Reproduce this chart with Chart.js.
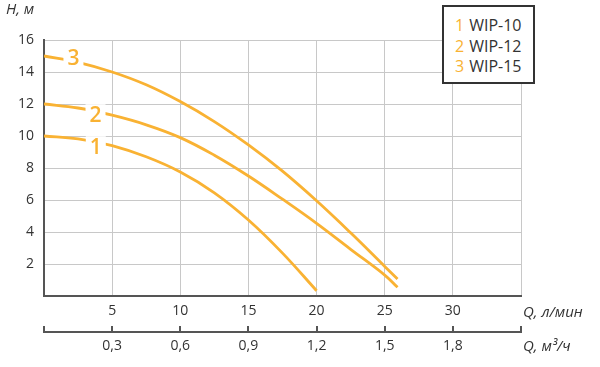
<!DOCTYPE html>
<html>
<head>
<meta charset="utf-8">
<script src="https://cdn.jsdelivr.net/npm/chart.js@4"></script>
<style>
  body { margin: 0; background: #fff; }
  #wrap { position: relative; width: 600px; height: 367px; }
  #legend {
    position: absolute; left: 442px; top: 5px; width: 93px; height: 79px;
    box-sizing: border-box; border: 2px solid #333; background: #fff;
    font: 16px "Open Sans", sans-serif; color: #333;
    padding: 8px 0 0 11px; line-height: 20.5px;
  }
  #legend span { color: #f9b233; margin-right: 5px; }
</style>
</head>
<body>
<div id="wrap">
  <canvas id="chart" width="600" height="367"></canvas>
  <div id="legend"></div>
</div>
<script>
// === Data ===
const SERIES_NAMES = ["WIP-10", "WIP-12", "WIP-15"];

// Q (л/мин), H (м)
const WIP10 = [[0, 10], [2.5, 9.82], [5, 9.4], [7.5, 8.7], [10, 7.75], [12.5, 6.45], [15, 4.75], [17.5, 2.68], [20, 0.33]];
const WIP12 = [[0, 12], [2.5, 11.75], [5, 11.3], [7.5, 10.7], [10, 9.9], [12.5, 8.8], [15, 7.5], [17.5, 6.05], [20, 4.54], [22.5, 2.92], [25, 1.31], [25.94, 0.54]];
const WIP15 = [[0, 15], [2.5, 14.6], [5, 14.0], [7.5, 13.2], [10, 12.15], [12.5, 10.9], [15, 9.44], [17.5, 7.8], [20, 5.95], [22.5, 3.95], [25, 1.85], [25.94, 1.06]];

// curve number tags, data coords
const CURVE_TAGS = [[3.8, 9.3], [3.78, 11.3], [2.16, 14.9]];

const Y_TICKS = [2, 4, 6, 8, 10, 12, 14, 16];
const Q_LPM_LABELS = ["", "5", "10", "15", "20", "25", "30", ""];
const Q_M3H_LABELS = ["", "0,3", "0,6", "0,9", "1,2", "1,5", "1,8", ""];

const ORANGE = "#f9b233";
const TEXT = "#333";
const FONT = '"Open Sans", sans-serif';

// =========================
// LEGEND
// =========================
document.getElementById("legend").innerHTML = SERIES_NAMES
  .map((n, i) => `<div><span>${i + 1}</span>${n}</div>`).join("");

// =========================
// EXTRA DRAWING (tags, ruler, unit titles)
// =========================
const extras = {
  id: "extras",
  afterDatasetsDraw(chart) {
    const { ctx, scales: { x, y } } = chart;
    ctx.save();
    ctx.font = `600 21px ${FONT}`;
    ctx.textAlign = "center";
    ctx.textBaseline = "middle";
    CURVE_TAGS.forEach((t, i) => {
      const px = x.getPixelForValue(t[0]);
      const py = y.getPixelForValue(t[1]);
      ctx.fillStyle = "#fff";
      ctx.fillRect(px - 10, py - 11, 20, 22);
      ctx.fillStyle = ORANGE;
      ctx.fillText(String(i + 1), px, py + 1);
    });
    ctx.restore();
  },
  afterDraw(chart) {
    const { ctx, scales: { x, x2 } } = chart;
    ctx.save();
    // ruler baseline under the tick marks
    ctx.strokeStyle = "#555";
    ctx.lineWidth = 2;
    ctx.beginPath();
    const ly = x2.top + 6;
    ctx.moveTo(x2.getPixelForValue(0) - 1, ly);
    ctx.lineTo(x2.getPixelForValue(35) + 1, ly);
    ctx.stroke();

    ctx.fillStyle = TEXT;
    ctx.font = `italic 15px ${FONT}`;
    ctx.textBaseline = "middle";
    ctx.textAlign = "left";
    ctx.fillText("Q, л/мин", x.right + 2, 313);
    ctx.fillText("Q, м³/ч", x.right + 2, 347);
    ctx.fillText("H, м", 6, 10);
    ctx.restore();
  }
};

// =========================
// CHART
// =========================
const mk = (pts) => pts.map((p) => ({ x: p[0], y: p[1] }));

new Chart(document.getElementById("chart"), {
  type: "scatter",
  data: {
    datasets: [WIP10, WIP12, WIP15].map((d, i) => ({
      label: SERIES_NAMES[i],
      data: mk(d),
      showLine: true,
      borderColor: ORANGE,
      borderWidth: 2.8,
      pointRadius: 0,
      tension: 0.4
    }))
  },
  options: {
    responsive: false,
    animation: false,
    layout: { padding: { top: 40, right: 79, left: 0, bottom: 0 } },
    plugins: { legend: { display: false }, tooltip: { enabled: false } },
    scales: {
      x: {
        type: "linear", position: "bottom", weight: 0,
        min: 0, max: 35,
        afterFit: (s) => { s.height = 30; },
        afterBuildTicks: (s) => { s.ticks = Q_LPM_LABELS.map((_, i) => ({ value: i * 5 })); },
        ticks: {
          padding: 7, color: TEXT, font: { family: FONT, size: 14 }, maxRotation: 0,
          callback: (v) => Q_LPM_LABELS[Math.round(v / 5)]
        },
        grid: { color: "#c8c8c8", lineWidth: 1, drawTicks: false },
        border: { color: "#555", width: 2 }
      },
      x2: {
        type: "linear", position: "bottom", weight: 1,
        min: 0, max: 35,
        afterFit: (s) => { s.height = 41; },
        afterBuildTicks: (s) => { s.ticks = Q_M3H_LABELS.map((_, i) => ({ value: i * 5 })); },
        ticks: {
          padding: 6, color: TEXT, font: { family: FONT, size: 14 }, maxRotation: 0,
          callback: (v) => Q_M3H_LABELS[Math.round(v / 5)]
        },
        grid: { drawOnChartArea: false, drawTicks: true, tickLength: 6, color: "#555", lineWidth: 2 },
        border: { display: false }
      },
      y: {
        min: 0, max: 16,
        afterFit: (s) => { s.width = 44; },
        afterBuildTicks: (s) => { s.ticks = [0, ...Y_TICKS].map((v) => ({ value: v })); },
        ticks: {
          padding: 10, color: TEXT, font: { family: FONT, size: 14 },
          callback: (v) => (v === 0 ? "" : v)
        },
        grid: { color: "#c8c8c8", lineWidth: 1, drawTicks: false },
        border: { color: "#555", width: 2 }
      }
    }
  },
  plugins: [extras]
});
</script>
</body>
</html>
